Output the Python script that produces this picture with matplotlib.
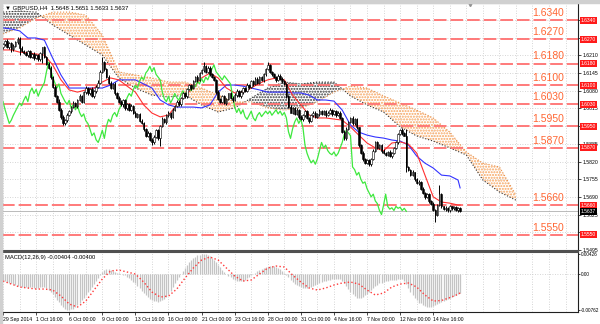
import numpy as np
import matplotlib.pyplot as plt
from matplotlib.patches import Rectangle
from matplotlib.transforms import blended_transform_factory

# GBPUSD H4 closes, one per bar
closes = [
    1.6250, 1.6262, 1.6240, 1.6255, 1.6232, 1.6245, 1.6258, 1.6270, 1.6238, 1.6226,
    1.6220, 1.6212, 1.6225, 1.6205, 1.6215, 1.6200, 1.6210, 1.6195, 1.6218, 1.6240,
    1.6205, 1.6180, 1.6165, 1.6130, 1.6095, 1.6060, 1.6040, 1.6010, 1.5985, 1.5960,
    1.5972, 1.5990, 1.6005, 1.6020, 1.6035, 1.6025, 1.6045, 1.6060, 1.6040, 1.6075,
    1.6090, 1.6070, 1.6085, 1.6060, 1.6080, 1.6095, 1.6110, 1.6150, 1.6185, 1.6160,
    1.6130, 1.6110, 1.6090, 1.6105, 1.6070, 1.6055, 1.6040, 1.6030, 1.6045, 1.6015,
    1.6030, 1.6010, 1.6025, 1.6000, 1.5985, 1.5995, 1.5970, 1.5960, 1.5940, 1.5915,
    1.5925, 1.5900, 1.5890, 1.5910, 1.5935, 1.5905, 1.5950, 1.5975, 1.5965, 1.5990,
    1.6000, 1.5985, 1.6010, 1.6025, 1.6040, 1.6030, 1.6055, 1.6070, 1.6060, 1.6085,
    1.6100, 1.6090, 1.6115, 1.6130, 1.6120, 1.6145, 1.6155, 1.6170, 1.6150, 1.6165,
    1.6140, 1.6130, 1.6120, 1.6075, 1.6050, 1.6040, 1.6060, 1.6035, 1.6050, 1.6070,
    1.6055, 1.6045, 1.6065, 1.6080, 1.6060, 1.6075, 1.6090, 1.6080, 1.6100, 1.6095,
    1.6115, 1.6105, 1.6125, 1.6110, 1.6130, 1.6120, 1.6140, 1.6160, 1.6175, 1.6150,
    1.6140, 1.6130, 1.6120, 1.6135, 1.6125, 1.6115, 1.6105, 1.6060, 1.6020, 1.6000,
    1.6015, 1.5995, 1.6010, 1.5985, 1.5975, 1.5990, 1.6005, 1.5980, 1.5970, 1.5990,
    1.6000, 1.5985, 1.5995, 1.6005, 1.5995, 1.6005, 1.5990, 1.6000, 1.6010, 1.5995,
    1.6005, 1.5990, 1.6000, 1.5980, 1.5930, 1.5905, 1.5940, 1.5965, 1.5980, 1.5960,
    1.5975, 1.5945, 1.5880, 1.5850, 1.5830, 1.5815, 1.5825, 1.5810, 1.5830, 1.5860,
    1.5890, 1.5870, 1.5880, 1.5860, 1.5850, 1.5845, 1.5855, 1.5840, 1.5850, 1.5870,
    1.5890, 1.5920, 1.5935, 1.5925, 1.5915, 1.5800, 1.5790, 1.5770, 1.5780, 1.5755,
    1.5740, 1.5745, 1.5720, 1.5705, 1.5690, 1.5700, 1.5675, 1.5665, 1.5640, 1.5625,
    1.5660, 1.5700, 1.5655, 1.5645, 1.5650, 1.5640, 1.5655, 1.5648, 1.5652, 1.5640,
    1.5648, 1.5637,
]
first_open = 1.6240

# upper / lower shadow length in pips
up_wick = [
    6, 4, 8, 5, 3, 7, 5, 7, 7, 6, 5, 7, 4, 6, 5, 8, 4, 6, 5, 1,
    6, 4, 5, 7, 3, 6, 4, 8, 5, 6, 4, 7, 5, 3, 6, 4, 5, 7, 3, 5,
    6, 4, 5, 7, 3, 6, 8, 5, 20, 6, 4, 7, 5, 3, 6, 5, 4, 7, 3, 6,
    5, 4, 6, 3, 7, 5, 4, 6, 5, 3, 6, 4, 5, 7, 3, 6, 5, 8, 4, 6,
    5, 3, 7, 4, 6, 5, 3, 7, 4, 5, 6, 4, 5, 3, 7, 5, 6, 16, 4, 5,
    6, 4, 5, 3, 7, 5, 4, 6, 5, 3, 6, 4, 5, 7, 3, 6, 5, 4, 7, 3,
    5, 6, 4, 7, 3, 5, 6, 4, 11, 5, 4, 6, 3, 5, 7, 4, 6, 5, 3, 6,
    5, 4, 6, 3, 7, 5, 4, 6, 5, 3, 6, 4, 5, 7, 3, 6, 5, 4, 7, 3,
    5, 6, 4, 7, 3, 5, 6, 4, 5, 7, 4, 6, 3, 5, 7, 4, 6, 5, 3, 6,
    5, 4, 6, 3, 7, 5, 4, 6, 5, 3, 6, 4, 5, 7, 3, 25, 5, 4, 7, 3,
    5, 6, 4, 7, 3, 5, 6, 4, 5, 7, 4, 34, 6, 3, 5, 4, 6, 3, 5, 4,
    3, 3,
]
dn_wick = [
    5, 7, 4, 6, 8, 5, 3, 6, 27, 5, 6, 4, 7, 5, 3, 6, 5, 7, 4, 36,
    5, 6, 4, 7, 5, 3, 6, 4, 8, 6, 5, 7, 4, 6, 3, 5, 8, 4, 6, 5,
    7, 4, 5, 3, 6, 8, 4, 5, 6, 7, 4, 6, 5, 3, 7, 5, 4, 6, 8, 5,
    6, 4, 5, 7, 3, 6, 5, 4, 7, 6, 5, 4, 10, 6, 5, 7, 28, 5, 4, 6,
    5, 7, 4, 6, 3, 5, 6, 4, 7, 5, 4, 6, 5, 3, 7, 5, 4, 6, 5, 3,
    6, 4, 5, 7, 3, 6, 5, 4, 7, 3, 5, 6, 4, 7, 3, 5, 6, 4, 5, 7,
    4, 6, 3, 5, 7, 4, 6, 5, 3, 6, 5, 4, 6, 3, 7, 5, 4, 6, 5, 3,
    6, 4, 5, 7, 3, 6, 5, 4, 7, 3, 5, 6, 4, 7, 3, 5, 6, 4, 5, 7,
    4, 6, 3, 5, 7, 6, 6, 5, 3, 6, 5, 4, 6, 3, 7, 5, 4, 6, 5, 3,
    6, 4, 5, 7, 3, 6, 5, 4, 7, 3, 5, 6, 4, 7, 3, 19, 6, 4, 5, 7,
    4, 6, 3, 5, 7, 4, 6, 5, 3, 27, 5, 4, 6, 3, 7, 5, 4, 6, 5, 3,
    4, 4,
]

# Ichimoku lines, read every 4 bars (last point = last bar)
tenkan = [
    1.6230, 1.6230, 1.6222, 1.6219, 1.6215, 1.6211, 1.6175, 1.6120, 1.6083, 1.6075,
    1.6083, 1.6090, 1.6112, 1.6127, 1.6120, 1.6097, 1.6075, 1.6028, 1.5998, 1.5984,
    1.5991, 1.6028, 1.6064, 1.6090, 1.6127, 1.6145, 1.6127, 1.6090, 1.6072, 1.6075,
    1.6090, 1.6108, 1.6120, 1.6127, 1.6120, 1.6064, 1.6028, 1.5991, 1.5980, 1.5980,
    1.5976, 1.5972, 1.5947, 1.5917, 1.5888, 1.5870, 1.5859, 1.5888, 1.5892, 1.5884,
    1.5851, 1.5770, 1.5690, 1.5671, 1.5667, 1.5660, 1.5660,
]
kijun = [
    1.6311, 1.6307, 1.6300, 1.6274, 1.6274, 1.6266, 1.6200, 1.6138, 1.6090, 1.6090,
    1.6090, 1.6090, 1.6090, 1.6101, 1.6120, 1.6120, 1.6120, 1.6105, 1.6090, 1.6046,
    1.6028, 1.6020, 1.6020, 1.6020, 1.6017, 1.6028, 1.6075, 1.6101, 1.6101, 1.6097,
    1.6090, 1.6083, 1.6075, 1.6075, 1.6075, 1.6072, 1.6072, 1.6064, 1.6046, 1.6046,
    1.6042, 1.6009, 1.5954, 1.5928, 1.5917, 1.5910, 1.5906, 1.5899, 1.5895, 1.5881,
    1.5840, 1.5814, 1.5796, 1.5770, 1.5767, 1.5752, 1.5723,
]
line_idx = list(range(0, 221, 4)) + [221]

# Senkou spans (cloud), read every 8 bars, runs 26 bars past the last candle
span_a = [
    1.6369, 1.6373, 1.6369, 1.6322, 1.6285, 1.6248, 1.6211, 1.6127, 1.6090, 1.6064,
    1.6057, 1.6064, 1.6028, 1.6002, 1.6017, 1.6053, 1.6090, 1.6112, 1.6105, 1.6112,
    1.6112, 1.6061, 1.6028, 1.6002, 1.5947, 1.5914, 1.5895, 1.5870, 1.5844, 1.5752,
    1.5708, 1.5678,
]
span_b = [
    1.6289, 1.6311, 1.6347, 1.6369, 1.6369, 1.6358, 1.6285, 1.6149, 1.6138, 1.6127,
    1.6112, 1.6112, 1.6090, 1.6064, 1.6039, 1.6039, 1.6017, 1.6009, 1.6017, 1.6039,
    1.6075, 1.6097, 1.6090, 1.6061, 1.6035, 1.6009, 1.5980, 1.5928, 1.5855, 1.5814,
    1.5800, 1.5697,
]
cloud_idx = list(range(0, 249, 8))

# MACD(12,26,9) main histogram per bar and signal every 4 bars, in 1e-5
macd_main = [
    -120, -140, -160, -180, -200, -215, -230, -245, -255, -265,
    -270, -280, -290, -285, -280, -290, -300, -295, -285, -270,
    -280, -300, -330, -380, -430, -490, -540, -600, -650, -700,
    -735, -755, -762, -750, -730, -700, -660, -610, -560, -510,
    -450, -390, -330, -270, -210, -150, -90, -30, 40, 90,
    110, 100, 80, 60, 50, 30, 20, 0, -20, -30,
    -60, -90, -120, -160, -200, -250, -300, -350, -400, -450,
    -490, -520, -550, -570, -580, -590, -570, -560, -530, -480,
    -420, -350, -280, -200, -130, -60, 0, 60, 130, 190,
    250, 300, 340, 370, 395, 410, 420, 426, 420, 405,
    380, 345, 300, 250, 195, 140, 90, 40, 0, -40,
    -70, -100, -120, -140, -150, -150, -140, -120, -90, -60,
    -30, 0, 30, 60, 90, 110, 130, 145, 155, 165,
    170, 165, 150, 130, 100, 60, 20, -20, -70, -120,
    -170, -210, -240, -260, -280, -290, -295, -290, -280, -270,
    -250, -230, -210, -190, -170, -150, -140, -130, -120, -110,
    -100, -100, -105, -110, -150, -200, -260, -320, -380, -430,
    -470, -500, -510, -500, -480, -450, -420, -380, -340, -300,
    -260, -230, -200, -180, -160, -150, -140, -135, -130, -125,
    -120, -110, -100, -110, -150, -220, -300, -380, -450, -510,
    -560, -610, -620, -650, -670, -690, -700, -690, -670, -650,
    -630, -610, -590, -570, -550, -530, -510, -490, -470, -450,
    -430, -404,
]
macd_signal = [
    -148, -212, -275, -296, -318, -318, -339, -466, -635, -699,
    -572, -339, -106, 64, 85, 42, 0, -170, -381, -487,
    -466, -318, -85, 127, 296, 360, 296, 127, -42, -148,
    -127, 0, 127, 169, 148, -21, -170, -296, -339, -296,
    -233, -190, -170, -212, -339, -445, -402, -275, -212, -190,
    -275, -445, -572, -560, -500, -430, -400,
]

levels = [1.6340, 1.6270, 1.6180, 1.6100, 1.6030, 1.5950, 1.5870, 1.5660, 1.5550]
price_ticks = [1.5495, 1.5560, 1.5625, 1.5690, 1.5755, 1.5820, 1.5885, 1.5950,
               1.6015, 1.6080, 1.6145, 1.6210, 1.6275, 1.6340]
hidden_ticks = [1.5560, 1.5950, 1.6275, 1.6340]  # covered by the level boxes
date_labels = ["29 Sep 2014", "1 Oct 16:00", "6 Oct 00:00", "9 Oct 00:00",
               "13 Oct 16:00", "16 Oct 00:00", "21 Oct 00:00", "23 Oct 16:00",
               "28 Oct 00:00", "31 Oct 00:00", "4 Nov 16:00", "7 Nov 00:00",
               "12 Nov 00:00", "14 Nov 16:00"]
last_price = 1.5637

plt.rcParams['hatch.linewidth'] = 1.0
plt.rcParams['font.family'] = ['Liberation Sans', 'DejaVu Sans']

fig = plt.figure(figsize=(6, 3.24), dpi=100)
ax = fig.add_axes([2 / 600, 1 - 251 / 324, 576 / 600, 248 / 324])
ax2 = fig.add_axes([2 / 600, 1 - 312 / 324, 576 / 600, 60 / 324], sharex=ax)

grid_kw = dict(color='#c8c8c8', lw=0.6, ls=(0, (1, 2)))
n = len(closes)
idx = np.arange(n)

# grid
for gx in range(0, 280, 8):
    ax.axvline(gx, zorder=0, **grid_kw)
    ax2.axvline(gx, zorder=0, **grid_kw)
for gy in price_ticks:
    ax.axhline(gy, zorder=0, **grid_kw)
ax2.axhline(0, zorder=0, **grid_kw)

# cloud
sa = np.array(span_a)
sb = np.array(span_b)
ax.fill_between(cloud_idx, sa, sb, where=sb >= sa, interpolate=True,
                facecolor='none', edgecolor='#f7a35c', hatch='......', lw=0, zorder=1)
ax.fill_between(cloud_idx, sa, sb, where=sa > sb, interpolate=True,
                facecolor='none', edgecolor='#3a3a3a', hatch='......', lw=0, zorder=1)
ax.plot(cloud_idx, span_a, color='#333333', ls=':', lw=0.8, zorder=1)
ax.plot(cloud_idx, span_b, color='#e8904a', ls=':', lw=0.8, zorder=1)

# support / resistance levels
tr = blended_transform_factory(ax.transAxes, ax.transData)
for lv in levels:
    ax.axhline(lv, color='#ff7070', lw=1.3, dashes=(7, 2.2), zorder=2)
    ax.text(263.5, lv + 0.0008, f"{lv:.4f}", color='#ff6633', fontsize=7.5,
            ha='center', va='bottom', zorder=6)
    ax.text(1.005, lv, f"{lv:.4f}", transform=tr, fontsize=3.6, color='white',
            va='center', ha='left', zorder=7, clip_on=False,
            bbox=dict(boxstyle='square,pad=0.2', fc='#ff1a1a', ec='none'))

# price line
ax.axhline(last_price, color='#b0b0b0', lw=0.6, zorder=2)

# indicator lines
ax.plot(line_idx, kijun, color='#3333ff', lw=0.8, zorder=3)
ax.plot(line_idx, tenkan, color='#ff3030', lw=0.8, zorder=3)
ax.plot(idx[:n - 26], closes[26:], color='#3ee83e', lw=0.9, zorder=3)

# candles
opens = np.array([first_open] + closes[:-1])
cl = np.array(closes)
highs = np.maximum(opens, cl) + np.array(up_wick) * 1e-4
lows = np.minimum(opens, cl) - np.array(dn_wick) * 1e-4
ax.vlines(idx, lows, highs, color='black', lw=0.7, zorder=4)
bull = cl >= opens
ax.bar(idx[bull], (cl - opens)[bull], bottom=opens[bull], width=0.75,
       color='white', edgecolor='black', lw=0.4, zorder=5)
ax.bar(idx[~bull], (opens - cl)[~bull], bottom=cl[~bull], width=0.75,
       color='black', edgecolor='black', lw=0.4, zorder=5)

ax.text(1.005, last_price, f"{last_price:.4f}", transform=tr, fontsize=3.6,
        color='white', va='center', ha='left', zorder=8, clip_on=False,
        bbox=dict(boxstyle='square,pad=0.2', fc='black', ec='none'))

ax.text(0.005, 0.98, "\u25bc GBPUSD,H4  1.5648 1.5651 1.5633 1.5637",
        transform=ax.transAxes, fontsize=4.3, va='center', ha='left')

ax.set_xlim(-0.5, 278)
ax.set_ylim(1.54911, 1.64025)
ax.yaxis.tick_right()
ax.set_yticks(price_ticks)
ax.set_yticklabels(["" if v in hidden_ticks else f"{v:.4f}" for v in price_ticks])
ax.tick_params(axis='y', labelsize=3.7, length=2, pad=1.2, width=0.5)
ax.tick_params(axis='x', bottom=False, labelbottom=False)

# MACD panel
macd = np.array(macd_main) * 1e-5
ax2.vlines(idx, 0, macd, color='#c4c4c4', lw=0.9, zorder=2)
ax2.plot(line_idx, np.array(macd_signal) * 1e-5, color='#ff3b3b', ls=':', lw=1.0, zorder=3)
ax2.set_ylim(-0.00804, 0.00466)
ax2.yaxis.tick_right()
ax2.set_yticks([-0.00762, 0.0, 0.00426])
ax2.set_yticklabels(["-0.00762", "0.00", "0.00426"])
ax2.tick_params(axis='y', labelsize=3.4, length=1.5, pad=0.8, width=0.5)
ax2.set_xticks(range(0, 16 * len(date_labels), 16))
ax2.set_xticklabels(date_labels, ha='left')
ax2.tick_params(axis='x', labelsize=3.7, length=2, pad=1.5, width=0.5)
ax2.text(0.005, 0.9, "MACD(12,26,9) -0.00404 -0.00400", transform=ax2.transAxes,
         fontsize=4.2, va='center', ha='left')

for a in (ax, ax2):
    for s in a.spines.values():
        s.set_linewidth(0.8)
        s.set_color('#202020')
ax.spines['bottom'].set_linewidth(1.5)
ax.spines['bottom'].set_color('#505050')
ax2.spines['top'].set_linewidth(1.5)
ax2.spines['top'].set_color('#505050')
ax.spines['top'].set_color('#a0a0a0')
ax.spines['left'].set_color('#a0a0a0')
ax2.spines['left'].set_color('#a0a0a0')

# window chrome
fig.patches.append(Rectangle((0, 1 - 3 / 324), 1, 3 / 324, transform=fig.transFigure,
                             color='#d0d0d0', zorder=0))
fig.patches.append(Rectangle((0, 0), 2 / 600, 1, transform=fig.transFigure,
                             color='#d0d0d0', zorder=0))
ax.plot([226], [1.6398], marker='v', color='#909090', ms=3, clip_on=False, zorder=8)

fig.savefig("out.png", dpi=100)
